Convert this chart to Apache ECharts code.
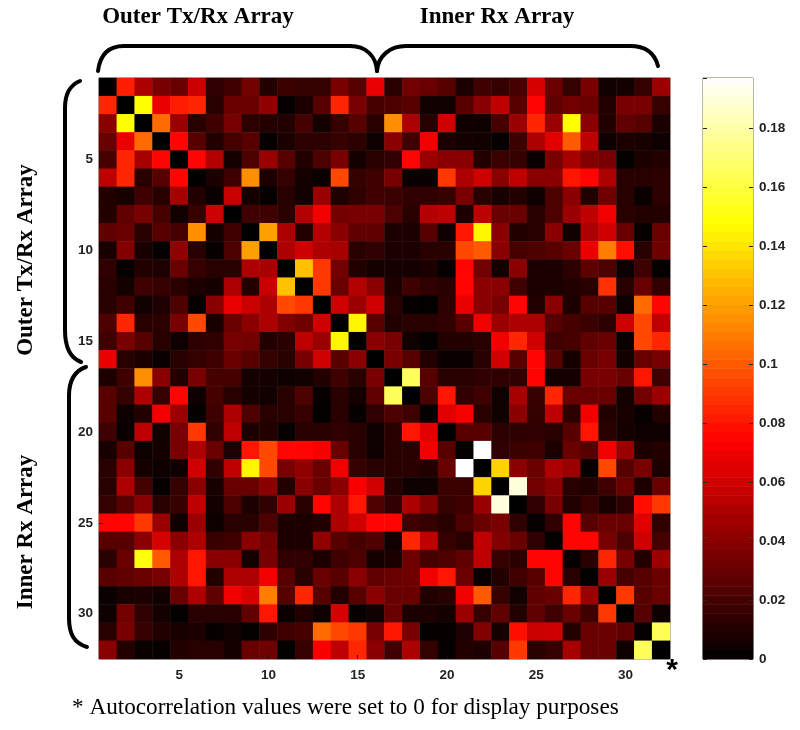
<!DOCTYPE html>
<html><head><meta charset="utf-8">
<style>html,body{margin:0;padding:0;background:#fff}#c{width:800px;height:730px}</style>
<script src="https://cdn.jsdelivr.net/npm/echarts@6/dist/echarts.min.js"></script>
</head><body><div id="c"></div>
<script>
const channels = Array.from({length:32},(_,i)=>String(i+1));
const row01=[0,.083,.05,.035,.03,.058,.014,.018,.033,.01,.017,.015,.015,.035,.025,.068,.012,.033,.03,.025,.008,.018,.015,.02,.062,.03,.015,.035,.005,.006,.015,.045];
const row02=[.085,0,.148,.068,.082,.085,.012,.03,.03,.042,.002,.008,.025,.085,.035,.02,.022,.025,.005,.005,.025,.04,.055,.025,.075,.028,.033,.03,.01,.035,.035,.015];
const row03=[.04,.148,0,.105,.045,.012,.018,.035,.013,.01,.01,.02,.006,.015,.025,.012,.115,.05,.012,.06,.004,.004,.02,.045,.085,.045,.148,.04,.01,.028,.025,.008];
const row04=[.03,.068,.105,0,.075,.025,.01,.02,.025,.002,.008,.013,.013,.015,.013,.004,.04,.018,.07,.008,.006,.005,.002,.017,.05,.065,.1,.055,.004,.008,.007,.004];
const row05=[.02,.085,.048,.075,0,.075,.052,.006,.022,.045,.025,.01,.022,.035,.006,.012,.014,.075,.045,.04,.04,.01,.017,.015,.003,.035,.048,.037,.035,.001,.008,.01];
const row06=[.055,.085,.012,.025,.075,0,.008,.018,.115,.008,.015,.006,.003,.095,.015,.018,.035,.003,.003,.09,.05,.06,.04,.055,.04,.04,.08,.075,.05,.012,.012,.013];
const row07=[.01,.007,.018,.012,.048,.01,.003,.058,.006,.002,.012,.005,.045,.009,.014,.018,.017,.014,.014,.015,.035,.012,.007,.01,.004,.022,.04,.01,.032,.012,.003,.013];
const row08=[.01,.028,.035,.02,.005,.016,.06,0,.018,.018,.012,.052,.07,.033,.035,.035,.022,.012,.052,.055,.008,.055,.03,.03,.012,.022,.045,.055,.07,.012,.01,.01];
const row09=[.028,.03,.012,.025,.02,.115,.006,.018,0,.12,.05,.01,.052,.04,.028,.028,.008,.008,.025,.004,.08,.145,.04,.01,.012,.04,.005,.05,.06,.03,.002,.03];
const row10=[.007,.038,.007,.002,.042,.012,.002,.022,.12,0,.05,.06,.05,.048,.012,.014,.008,.008,.012,.012,.095,.1,.04,.02,.022,.025,.03,.068,.11,.078,.012,.032];
const row11=[.014,.002,.01,.009,.03,.016,.012,.012,.05,.048,0,.13,.09,.033,.01,.006,.006,.006,.008,.002,.075,.033,.006,.04,.008,.008,.013,.027,.022,.004,.018,.001];
const row12=[.012,.006,.018,.016,.012,.008,.006,.05,.01,.058,.13,0,.09,.03,.052,.04,.008,.018,.014,.012,.075,.04,.04,.018,.008,.008,.01,.012,.088,.012,.03,.014];
const row13=[.012,.018,.005,.009,.022,.002,.04,.068,.058,.05,.095,.09,0,.06,.045,.06,.012,.002,.001,.013,.068,.04,.035,.075,.01,.04,.008,.025,.025,.004,.105,.075];
const row14=[.022,.085,.012,.013,.035,.095,.007,.03,.04,.05,.037,.032,.06,0,.145,.025,.01,.012,.012,.014,.025,.07,.045,.05,.05,.025,.02,.017,.013,.06,.095,.055];
const row15=[.018,.035,.025,.012,.004,.013,.014,.035,.033,.01,.012,.055,.045,.145,0,.04,.035,.005,.001,.01,.01,.012,.07,.085,.06,.018,.02,.028,.03,.003,.095,.085];
const row16=[.068,.012,.008,.003,.012,.015,.018,.03,.025,.015,.012,.035,.06,.025,.04,0,.035,.025,.01,.003,.003,.012,.06,.025,.075,.025,.006,.03,.035,.006,.03,.035];
const row17=[.008,.018,.115,.04,.01,.035,.02,.02,.006,.006,.004,.005,.01,.018,.012,.035,0,.165,.025,.012,.012,.014,.014,.014,.075,.006,.006,.035,.035,.03,.08,.018];
const row18=[.025,.015,.05,.015,.075,.004,.02,.012,.006,.005,.012,.022,.002,.012,.006,.028,.165,0,.022,.08,.014,.018,.005,.048,.016,.085,.03,.03,.03,.006,.033,.045];
const row19=[.025,.004,.01,.07,.045,.002,.018,.05,.022,.012,.012,.016,.001,.012,.002,.014,.022,.018,.002,.065,.072,.012,.005,.04,.015,.055,.013,.07,.01,.007,.002,.01];
const row20=[.018,.003,.055,.005,.035,.09,.014,.055,.008,.01,.002,.012,.012,.014,.012,.004,.012,.08,.065,0,.025,.025,.013,.013,.014,.012,.025,.08,.012,.006,.004,.004];
const row21=[.007,.025,.004,.006,.035,.05,.03,.009,.08,.095,.075,.075,.072,.03,.012,.004,.012,.012,.07,.025,.002,.197,.014,.017,.018,.008,.03,.025,.07,.045,.008,.01];
const row22=[.012,.04,.006,.004,.004,.06,.014,.055,.145,.095,.035,.042,.03,.07,.015,.012,.012,.012,.01,.03,.197,0,.135,.04,.03,.05,.045,.002,.095,.025,.035,.008];
const row23=[.012,.05,.02,.002,.016,.04,.007,.03,.03,.04,.01,.04,.03,.04,.072,.06,.01,.004,.004,.017,.017,.135,0,.19,.033,.04,.012,.01,.018,.03,.008,.03];
const row24=[.015,.025,.04,.012,.016,.055,.006,.022,.008,.014,.045,.012,.075,.05,.08,.023,.014,.05,.038,.015,.018,.045,.19,0,.014,.035,.01,.016,.007,.013,.078,.09];
const row25=[.075,.075,.09,.045,.004,.045,.004,.012,.012,.022,.008,.008,.01,.05,.06,.075,.075,.018,.015,.012,.022,.03,.035,.014,.002,.014,.075,.025,.03,.03,.065,.014];
const row26=[.025,.025,.04,.062,.04,.05,.016,.018,.04,.033,.008,.008,.042,.025,.02,.023,.005,.085,.055,.016,.012,.055,.038,.03,.014,.001,.075,.075,.035,.022,.06,.02];
const row27=[.012,.03,.15,.1,.05,.08,.04,.04,.006,.035,.014,.014,.008,.018,.022,.006,.008,.032,.02,.022,.028,.055,.016,.012,.075,.075,.002,.012,.085,.035,.01,.045];
const row28=[.025,.028,.03,.035,.05,.08,.01,.05,.05,.07,.025,.012,.03,.025,.04,.028,.03,.032,.07,.08,.03,.003,.01,.018,.025,.075,.012,.001,.045,.02,.025,.03];
const row29=[.003,.007,.008,.005,.03,.05,.028,.07,.062,.11,.025,.085,.025,.01,.025,.04,.03,.03,.01,.012,.07,.1,.016,.005,.028,.03,.085,.045,0,.09,.025,.03];
const row30=[.004,.033,.014,.006,.001,.012,.012,.012,.028,.08,.003,.01,.004,.062,.002,.005,.03,.008,.008,.006,.045,.016,.028,.01,.028,.018,.03,.018,.09,0,.025,.004];
const row31=[.012,.035,.016,.01,.007,.008,.002,.005,.001,.013,.018,.02,.105,.095,.09,.035,.08,.035,.002,.002,.009,.038,.006,.078,.058,.06,.01,.03,.03,.028,.002,.165];
const row32=[.04,.01,.003,.002,.01,.012,.012,.006,.03,.032,.001,.016,.072,.055,.085,.04,.018,.05,.015,.002,.01,.008,.025,.09,.012,.015,.048,.03,.03,.004,.165,0];
const rows=[row01,row02,row03,row04,row05,row06,row07,row08,row09,row10,row11,row12,row13,row14,row15,row16,row17,row18,row19,row20,row21,row22,row23,row24,row25,row26,row27,row28,row29,row30,row31,row32];
const colorMax=.197;
const hotStops=['#000000','#550000','#aa0000','#ff0000','#ff5500','#ffaa00','#ffff00','#ffff80','#ffffff'];
const heatData=[];
rows.forEach((r,y)=>r.forEach((v,x)=>heatData.push([x,y,v])));
const barLevels=Array.from({length:64},(_,i)=>(i+.5)/64*colorMax);
const barData=barLevels.map((v,i)=>[0,i,v]);
const showEvery5=(i)=>(i+1)%5===0;
const tickFont={fontFamily:'Liberation Sans',fontSize:13.5,fontWeight:'bold',color:'#222'};
const titleText=(txt,x,y,rot)=>({type:'text',x,y,rotation:rot||0,style:{text:txt,font:'bold 23px "Liberation Serif"',fill:'#000',textAlign:'center',textVerticalAlign:'middle'}});
const braceStyle={fill:'none',stroke:'#000',lineWidth:4,lineCap:'round'};
const curve=(x1,y1,cpx1,cpy1,cpx2,cpy2,x2,y2)=>({type:'bezierCurve',shape:{x1,y1,cpx1,cpy1,cpx2,cpy2,x2,y2},style:braceStyle});
const seg=(x1,y1,x2,y2)=>({type:'line',shape:{x1,y1,x2,y2},style:braceStyle});
const chart=echarts.init(document.getElementById('c'));
chart.setOption({
  animation:false,
  backgroundColor:'#fff',
  grid:[{left:99,top:78,width:571,height:581,show:true,borderColor:'#777',borderWidth:1,backgroundColor:'transparent'},
        {left:703,top:78,width:50,height:581,show:true,borderColor:'#444',borderWidth:1,backgroundColor:'transparent'}],
  xAxis:[{type:'category',gridIndex:0,data:channels,position:'bottom',
          axisLine:{show:false},splitLine:{show:false},z:5,
          axisTick:{show:true,inside:true,length:4,alignWithLabel:true,interval:showEvery5,lineStyle:{color:'#111'}},
          axisLabel:Object.assign({interval:showEvery5,margin:9},tickFont)},
         {type:'category',gridIndex:1,data:['c'],show:false}],
  yAxis:[{type:'category',gridIndex:0,data:channels,inverse:true,
          axisLine:{show:false},splitLine:{show:false},z:5,
          axisTick:{show:true,inside:true,length:4,alignWithLabel:true,interval:showEvery5,lineStyle:{color:'#111'}},
          axisLabel:Object.assign({interval:showEvery5,margin:6},tickFont)},
         {type:'category',gridIndex:1,data:barLevels.map(String),show:false},
         {type:'value',gridIndex:1,min:0,max:colorMax,interval:.02,position:'right',z:5,
          axisLine:{show:false},splitLine:{show:false},
          axisTick:{show:true,inside:true,length:4,lineStyle:{color:'#222'}},
          axisLabel:Object.assign({margin:6,showMaxLabel:false},tickFont)},
         {type:'value',gridIndex:1,min:0,max:colorMax,interval:.02,position:'left',z:5,
          axisLine:{show:false},splitLine:{show:false},axisLabel:{show:false},
          axisTick:{show:true,inside:true,length:4,lineStyle:{color:'#222'}}}],
  visualMap:{show:false,min:0,max:colorMax,seriesIndex:[0,1],inRange:{color:hotStops},calculable:false},
  series:[
    {type:'heatmap',xAxisIndex:0,yAxisIndex:0,data:heatData,itemStyle:{borderWidth:0},emphasis:{disabled:true},progressive:0},
    {type:'heatmap',xAxisIndex:1,yAxisIndex:1,data:barData,itemStyle:{borderWidth:0},emphasis:{disabled:true}}
  ],
  graphic:[
    titleText('Outer Tx/Rx Array',198,17),
    titleText('Inner Rx Array',497,17),
    titleText('Outer Tx/Rx Array',26,260,Math.PI/2),
    titleText('Inner Rx Array',26,532,Math.PI/2),
    curve(98,71,100,55,108,46,124,46), seg(124,46,350,46), curve(350,46,366,46,376,56,377,71),
    curve(377,71,378,56,390,46,406,46), seg(406,46,630,46), curve(630,46,646,46,655,54,658,66),
    curve(80,81,70,85,65,94,65,108), seg(65,108,65,330), curve(65,330,65,348,70,358,81,362),
    curve(86,367,74,371,69,381,69,396), seg(69,396,69,618), curve(69,618,69,634,74,643,87,647),
    {type:'text',x:672,y:671,style:{text:'*',font:'bold 30px "Liberation Sans"',fill:'#000',textAlign:'center',textVerticalAlign:'middle'}},
    {type:'text',x:72,y:708,style:{text:'* Autocorrelation values were set to 0 for display purposes',font:'23.2px "Liberation Serif"',fill:'#000',textAlign:'left',textVerticalAlign:'middle'}}
  ]
});
</script></body></html>
